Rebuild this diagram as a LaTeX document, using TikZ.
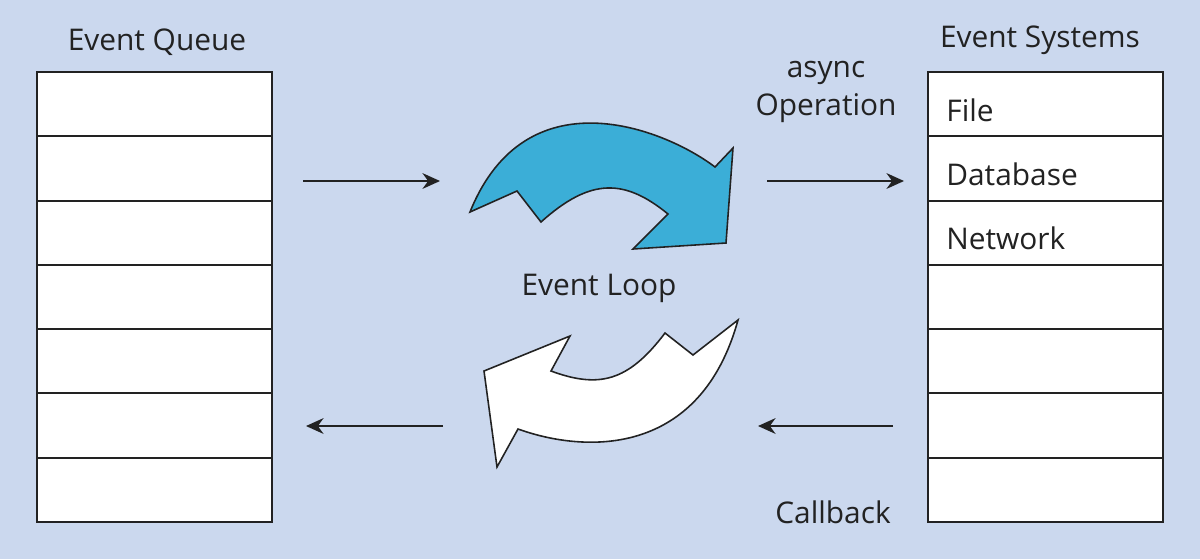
\documentclass[tikz,border=0pt]{standalone}
\usepackage{fontspec}
\setmainfont{Open Sans}
\usetikzlibrary{arrows.meta}
\definecolor{bg}{HTML}{CBD8EE}
\definecolor{loopblue}{HTML}{3BAED7}
\definecolor{ink}{HTML}{222222}
\begin{document}
\begin{tikzpicture}[x=0.02cm,y=-0.02cm,
  txt/.style={font=\fontsize{17}{20}\selectfont, text=ink, inner sep=0pt, anchor=base},
  cell/.style={draw=ink, line width=1.1pt, fill=white, minimum width=4.7cm,
    minimum height=1.2857cm, inner sep=0pt, outer sep=0pt, anchor=north west},
  flow/.style={draw=ink, line width=0.9pt, -{Stealth[length=10pt,width=9pt]}},
  loopshape/.style={draw=ink, line width=0.9pt, line join=miter}]
\fill[bg] (0,0) rectangle (1200,559);
\useasboundingbox (0,0) rectangle (1200,559);

% Event Queue
\foreach \i in {1,...,7}
  \node[cell] (q\i) at (37,{72+(\i-1)*64.2857}) {};
% Event Systems
\foreach \i in {1,...,7}
  \node[cell] (s\i) at (928,{72+(\i-1)*64.2857}) {};

\node[txt] (tq) at (157,50) {Event Queue};
\node[txt] (ts) at (1040,47) {Event Systems};

\node[txt, anchor=base west] (f1) at (946,121) {File};
\node[txt, anchor=base west] (f2) at (946,185) {Database};
\node[txt, anchor=base west] (f3) at (946,249) {Network};

\node[txt] (as) at (826,77) {async};
\node[txt] (op) at (826,115) {Operation};
\node[txt] (el) at (599,295) {Event Loop};
\node[txt] (cb) at (833,523) {Callback};

% straight arrows
\coordinate (a1s) at (303,181); \coordinate (a1e) at (440,181);
\coordinate (a2s) at (767,181); \coordinate (a2e) at (904,181);
\coordinate (a3s) at (443,426); \coordinate (a3e) at (306,426);
\coordinate (a4s) at (893,426); \coordinate (a4e) at (758,426);
\draw[flow] (a1s) -- (a1e);
\draw[flow] (a2s) -- (a2e);
\draw[flow] (a3s) -- (a3e);
\draw[flow] (a4s) -- (a4e);

% blue curved arrow
\draw[loopshape, fill=loopblue] (470,212) -- (517,191) -- (541,222)
  .. controls (591,177) and (625,179) .. (668,214)
  -- (633,249) -- (726,243) -- (733,148) -- (715,167)
  .. controls (665,129) and (526,73) .. (470,212)
  -- cycle;

% white curved arrow
\draw[loopshape, fill=white] (484,371) -- (570,336) -- (551,371)
  .. controls (598.5,388.5) and (628,382) .. (665,333)
  -- (693,355) -- (738,320)
  .. controls (700.5,456) and (587.5,454) .. (518,429)
  -- (497,467) -- cycle;
\end{tikzpicture}
\end{document}
